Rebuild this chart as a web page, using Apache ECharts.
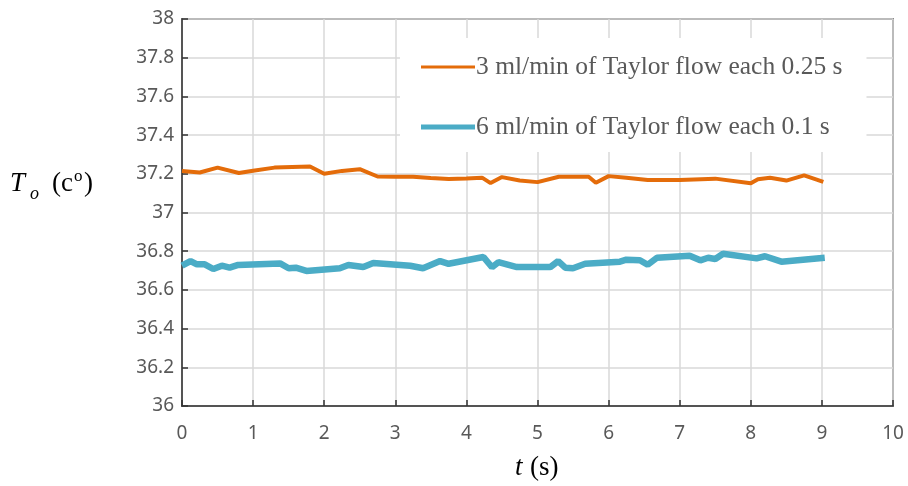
<!DOCTYPE html>
<html>
<head>
<meta charset="utf-8">
<script src="https://cdn.jsdelivr.net/npm/echarts@6/dist/echarts.min.js"></script>
<style>html,body{margin:0;padding:0;background:#fff}#c{width:908px;height:486px}</style>
</head>
<body>
<div id="c"></div>
<script>
const seriesNames = ['3 ml/min of Taylor flow each 0.25 s', '6 ml/min of Taylor flow each 0.1 s'];
const xTicks = [0, 1, 2, 3, 4, 5, 6, 7, 8, 9, 10];
const yTicks = [36, 36.2, 36.4, 36.6, 36.8, 37, 37.2, 37.4, 37.6, 37.8, 38];

const tOrange = [0, 0.25, 0.5, 0.8, 1.0, 1.3, 1.8, 2.0, 2.25, 2.5, 2.75, 3.0, 3.25, 3.5, 3.75, 4.0, 4.22, 4.34, 4.5, 4.75, 5.0, 5.3, 5.5, 5.72, 5.82, 6.0, 6.25, 6.55, 7.0, 7.5, 8.0, 8.1, 8.27, 8.5, 8.75, 9.02];
const vOrange = [37.215, 37.207, 37.232, 37.204, 37.216, 37.232, 37.238, 37.2, 37.215, 37.224, 37.186, 37.185, 37.185, 37.178, 37.173, 37.176, 37.18, 37.152, 37.183, 37.165, 37.157, 37.185, 37.185, 37.185, 37.154, 37.188, 37.18, 37.168, 37.168, 37.175, 37.151, 37.172, 37.18, 37.165, 37.192, 37.158];

const tBlue = [0, 0.12, 0.21, 0.32, 0.44, 0.56, 0.67, 0.79, 1.38, 1.5, 1.6, 1.75, 2.22, 2.34, 2.55, 2.69, 3.21, 3.39, 3.63, 3.75, 4.24, 4.36, 4.45, 4.71, 5.18, 5.29, 5.39, 5.5, 5.67, 6.16, 6.25, 6.44, 6.55, 6.68, 7.14, 7.29, 7.4, 7.5, 7.61, 8.08, 8.2, 8.43, 9.04];
const vBlue = [36.725, 36.749, 36.732, 36.732, 36.708, 36.725, 36.715, 36.729, 36.737, 36.712, 36.715, 36.698, 36.712, 36.729, 36.718, 36.739, 36.725, 36.712, 36.749, 36.735, 36.77, 36.717, 36.743, 36.718, 36.718, 36.749, 36.715, 36.712, 36.735, 36.746, 36.756, 36.753, 36.73, 36.766, 36.777, 36.753, 36.766, 36.76, 36.787, 36.763, 36.774, 36.746, 36.766];

const zip = (a, b) => a.map((x, i) => [x, b[i]]);
const chart = echarts.init(document.getElementById('c'), null, {renderer: 'canvas'});
const serif = '"Liberation Serif", "DejaVu Serif", serif';
const sans = '"Noto Sans", "Open Sans", sans-serif';

chart.setOption({
  animation: false,
  backgroundColor: '#fff',
  grid: {left: 182, right: 15, top: 19, bottom: 80, show: true, borderColor: '#333', borderWidth: 1.5, backgroundColor: 'transparent'},
  xAxis: {
    type: 'value', min: xTicks[0], max: xTicks[xTicks.length - 1], interval: 1,
    axisLine: {show: true, onZero: false, lineStyle: {color: '#333', width: 1.5}},
    axisTick: {show: true, inside: true, length: 6, lineStyle: {color: '#333', width: 1.5}},
    axisLabel: {color: '#595959', fontFamily: sans, fontSize: 19, margin: 18},
    splitLine: {show: true, lineStyle: {color: '#d9d9d9', width: 1.5}}
  },
  yAxis: {
    type: 'value', min: yTicks[0], max: yTicks[yTicks.length - 1], interval: 0.2,
    axisLine: {show: true, onZero: false, lineStyle: {color: '#333', width: 1.5}},
    axisTick: {show: true, inside: true, length: 6, lineStyle: {color: '#333', width: 1.5}},
    axisLabel: {color: '#595959', fontFamily: sans, fontSize: 19, margin: 8},
    splitLine: {show: true, lineStyle: {color: '#d9d9d9', width: 1.5}}
  },
  legend: {
    orient: 'vertical', left: 400, top: 38,
    backgroundColor: '#fff', padding: [14, 24, 10, 21],
    itemWidth: 54, itemHeight: 14, itemGap: 30,
    textStyle: {color: '#595959', fontFamily: serif, fontSize: 25.5, lineHeight: 30, padding: [0, 0, 0, -4]},
    data: [
      {name: seriesNames[0], icon: 'path://M0,5.5L54,5.5L54,8.5L0,8.5Z'},
      {name: seriesNames[1], icon: 'path://M0,4.5L54,4.5L54,9.5L0,9.5Z'}
    ]
  },
  series: [
    {name: seriesNames[0], type: 'line', data: zip(tOrange, vOrange), showSymbol: false, symbol: 'none',
     itemStyle: {color: '#E46C0A'}, lineStyle: {color: '#E46C0A', width: 4}, z: 3},
    {name: seriesNames[1], type: 'line', data: zip(tBlue, vBlue), showSymbol: false, symbol: 'none',
     itemStyle: {color: '#4BACC6'}, lineStyle: {color: '#4BACC6', width: 6.5}, z: 2}
  ],
  graphic: [
    {type: 'text', left: 10, top: 170, style: {text: 'T', font: 'italic 27px ' + serif, fill: '#000'}},
    {type: 'text', left: 30, top: 185, style: {text: 'o', font: 'italic 18px ' + serif, fill: '#000'}},
    {type: 'text', left: 52, top: 170, style: {text: '(c', font: '27px ' + serif, fill: '#000'}},
    {type: 'text', left: 74, top: 168, style: {text: 'o', font: '17px ' + serif, fill: '#000'}},
    {type: 'text', left: 84, top: 170, style: {text: ')', font: '27px ' + serif, fill: '#000'}},
    {type: 'text', left: 515, top: 454, style: {text: 't', font: 'italic 27px ' + serif, fill: '#000'}},
    {type: 'text', left: 530, top: 454, style: {text: '(s)', font: '27px ' + serif, fill: '#000'}}
  ]
});
</script>
</body>
</html>
